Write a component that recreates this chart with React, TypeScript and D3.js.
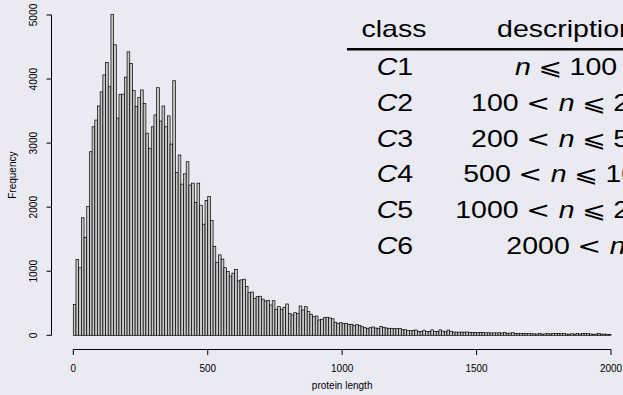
import { scaleLinear } from "d3"

// bin counts, width 10, from 0 to 2000
const counts = [
  480, 1185, 1055, 1835, 1530, 2010, 2865, 3255, 3360, 3580,
  3800, 4065, 4260, 3880, 5010, 4535, 3390, 3760, 3765, 4030,
  4425, 4245, 3820, 3570, 3715, 3830, 3620, 3155, 2920, 3255,
  3440, 3865, 3345, 3580, 3255, 3425, 2985, 3975, 2540, 2815,
  2360, 2520, 2710, 2345, 2375, 2075, 2375, 2030, 1735, 2105,
  2165, 1790, 1385, 1140, 1255, 1190, 1055, 995, 925, 970,
  1030, 850, 865, 875, 760, 665, 675, 575, 603, 610,
  565, 535, 546, 473, 540, 406, 447, 406, 437, 489,
  343, 317, 353, 343, 457, 395, 447, 369, 328, 290,
  301, 239, 250, 275, 281, 270, 258, 203, 181, 197,
  181, 187, 172, 172, 150, 165, 156, 134, 119, 109,
  119, 130, 114, 109, 140, 125, 114, 109, 109, 103,
  103, 109, 87, 87, 72, 72, 78, 83, 60, 60,
  80, 60, 58, 85, 62, 60, 85, 66, 55, 82,
  62, 50, 50, 48, 50, 48, 52, 45, 42, 45,
  40, 42, 46, 38, 40, 35, 38, 36, 40, 34,
  42, 30, 35, 40, 30, 28, 26, 28, 25, 26,
  24, 22, 20, 26, 18, 22, 28, 20, 30, 28,
  30, 24, 26, 20, 18, 24, 18, 28, 20, 30,
  26, 28, 20, 16, 18, 26, 18, 20, 16, 14,
]
const binWidth = 10
const xTicks = [0, 500, 1000, 1500, 2000]
const yTicks = [0, 1000, 2000, 3000, 4000, 5000]

// table in the upper right
const classIds = ["1", "2", "3", "4", "5", "6"]
const lowerBounds = [null, 100, 200, 500, 1000, 2000]
const upperBounds = [100, 200, 500, 1000, 2000, null]

const W = 623
const H = 395

export default function App() {
  let xScale = scaleLinear().domain([0, 2000]).range([73.3, 611])
  let yScale = scaleLinear().domain([0, 5000]).range([335.3, 15])
  let bw = xScale(binWidth) - xScale(0)

  let tableFont = "'Liberation Sans', Arial, sans-serif"
  let mathFont = "'DejaVu Sans', sans-serif"
  let stretch = 1.24
  let rowY = (i: number) => 75 + i * 35.8

  return (
    <div style={{ position: "absolute", left: 0, top: 0 }}>
      <svg width={W} height={H} style={{ display: "block" }}>
        <rect width={W} height={H} fill="#eaeaf2" />

        {/* Bars */}
        <g fill="#c8c8c8" stroke="#000" strokeWidth={0.7}>
          {counts.map((c, i) => (
            <rect
              key={i}
              x={xScale(i * binWidth)}
              y={yScale(c)}
              width={bw}
              height={yScale(0) - yScale(c)}
            />
          ))}
        </g>

        {/* Y axis */}
        <g fontFamily="'Liberation Sans', Arial, sans-serif" fontSize={10.2} fill="#000">
          <line x1={51.5} x2={51.5} y1={yScale(0)} y2={yScale(5000)} stroke="#000" />
          {yTicks.map((t) => (
            <g key={t}>
              <line x1={46.5} x2={51.5} y1={yScale(t)} y2={yScale(t)} stroke="#000" />
              <text transform={`translate(37,${yScale(t)}) rotate(-90)`} textAnchor="middle">
                {t}
              </text>
            </g>
          ))}
          <text transform={`translate(16,${(yScale(0) + yScale(5000)) / 2}) rotate(-90)`} textAnchor="middle" fontSize={10}>
            Frequency
          </text>
        </g>

        {/* X axis */}
        <g fontFamily="'Liberation Sans', Arial, sans-serif" fontSize={10} fill="#000">
          <line x1={xScale(0)} x2={xScale(2000)} y1={349.5} y2={349.5} stroke="#000" />
          {xTicks.map((t) => (
            <g key={t}>
              <line x1={xScale(t)} x2={xScale(t)} y1={349.5} y2={355} stroke="#000" />
              <text x={xScale(t)} y={372.3} textAnchor="middle">
                {t}
              </text>
            </g>
          ))}
          <text x={(xScale(0) + xScale(2000)) / 2} y={388.5} textAnchor="middle">
            protein length
          </text>
        </g>

        {/* Class table */}
        <g fontFamily={tableFont} fontSize={23} fill="#000">
          <g transform={`translate(394,36.7) scale(${stretch},1)`}>
            <text textAnchor="middle">class</text>
          </g>
          <g transform={`translate(566,36.7) scale(${stretch},1)`}>
            <text textAnchor="middle">description</text>
          </g>
          <line x1={347} x2={W} y1={49.2} y2={49.2} stroke="#000" strokeWidth={2.6} />
          {classIds.map((id, i) => (
            <g key={id}>
              <g transform={`translate(395,${rowY(i)}) scale(${stretch},1)`}>
                <text textAnchor="middle">
                  <tspan fontStyle="italic">C</tspan>
                  <tspan>{id}</tspan>
                </text>
              </g>
              <g transform={`translate(566,${rowY(i)}) scale(${stretch},1)`}>
                <text textAnchor="middle">
                  {lowerBounds[i] != null && (
                    <>
                      <tspan>{lowerBounds[i]}</tspan>
                      <tspan dx={6} fontFamily={mathFont}>{"<"}</tspan>
                    </>
                  )}
                  <tspan dx={lowerBounds[i] != null ? 7 : 0} fontStyle="italic">n</tspan>
                  {upperBounds[i] != null && (
                    <>
                      <tspan dx={6} fontFamily={mathFont}>⩽</tspan>
                      <tspan dx={6}>{upperBounds[i]}</tspan>
                    </>
                  )}
                </text>
              </g>
            </g>
          ))}
        </g>
      </svg>
    </div>
  )
}
